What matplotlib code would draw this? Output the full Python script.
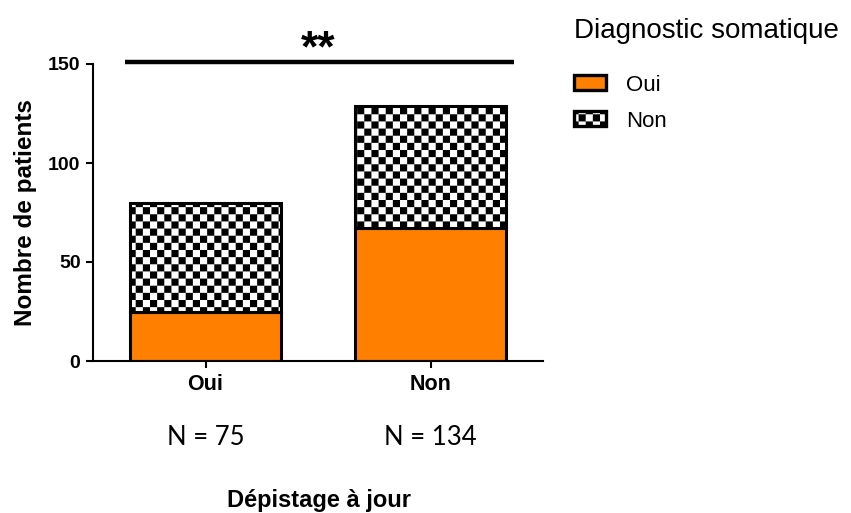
import numpy as np
import matplotlib
matplotlib.use("Agg")
import matplotlib.pyplot as plt
from matplotlib import hatch as mhatch
from matplotlib.path import Path
from matplotlib.patches import Patch

categories = ["Oui", "Non"]
oui_values = [25, 67]          # Diagnostic somatique = Oui (orange)
non_values = [55, 62]          # Diagnostic somatique = Non (checker)
n_labels = ["N = 75", "N = 134"]
yticks = [0, 50, 100, 150]
signif = "**"

ORANGE = "#FF8000"


# checkerboard hatch, replaces the '.' hatch
class Checker(mhatch.HatchPatternBase):
    N = 14

    def __init__(self, hatch, density):
        self.on = '.' in hatch
        self.num_vertices = (self.N * self.N // 2) * 5 if self.on else 0

    def set_vertices_and_codes(self, vertices, codes):
        s = 1.0 / self.N
        k = 0
        for i in range(self.N):
            for j in range(self.N):
                if (i + j) % 2:
                    continue
                x0, y0 = i * s, j * s
                vertices[k:k + 5] = [(x0, y0), (x0 + s, y0), (x0 + s, y0 + s),
                                     (x0, y0 + s), (x0, y0)]
                codes[k:k + 5] = [Path.MOVETO, Path.LINETO, Path.LINETO,
                                  Path.LINETO, Path.CLOSEPOLY]
                k += 5


mhatch._hatch_types = [Checker if t is mhatch.SmallFilledCircles else t
                       for t in mhatch._hatch_types]

plt.rcParams['font.family'] = ['Liberation Sans', 'DejaVu Sans']
plt.rcParams['hatch.linewidth'] = 0.01
plt.rcParams['hatch.color'] = 'black'

fig = plt.figure(figsize=(8.51, 5.13), dpi=100)
ax = fig.add_axes([93 / 851, (513 - 361) / 513, 450 / 851, 297 / 513])

x = np.arange(len(categories))
ax.bar(x, oui_values, width=0.667, color=ORANGE, edgecolor='black',
       linewidth=2.2, zorder=2)
ax.bar(x, non_values, bottom=oui_values, width=0.667, color='white',
       edgecolor='black', linewidth=2.2, hatch='.', zorder=2)

ax.set_xlim(-0.5, 1.5)
ax.set_ylim(0, 150)
ax.set_yticks(yticks)
ax.set_xticks(x)
ax.set_xticklabels(categories, fontsize=15.5, fontweight='bold')
for lab in ax.get_yticklabels():
    lab.set_fontsize(14)
    lab.set_fontweight('bold')
ax.tick_params(axis='both', length=5, width=1.5, pad=4)
for side in ['top', 'right']:
    ax.spines[side].set_visible(False)
for side in ['left', 'bottom']:
    ax.spines[side].set_linewidth(1.5)

ax.set_ylabel("Nombre de patients", fontsize=17.5, fontweight='bold', labelpad=8)

# significance bar
ax.plot([-0.36, 1.37], [151, 151], color='black', lw=3.2, clip_on=False,
        solid_capstyle='butt')
ax.text(0.5, 147, signif, ha='center', va='bottom', fontsize=32,
        fontweight='bold', clip_on=False)

# N labels under the categories
for i, lab in enumerate(n_labels):
    ax.text(i, -0.258, lab, transform=ax.get_xaxis_transform(), ha='center',
            va='center', fontsize=18.5, family=['Lato', 'DejaVu Sans'])

fig.text(319 / 851, 1 - 489 / 513, "Dépistage à jour", ha='center', va='top',
         fontsize=17, fontweight='bold')

handles = [Patch(facecolor=ORANGE, edgecolor='black', linewidth=2.4,
                 joinstyle='round', label='Oui'),
           Patch(facecolor='white', edgecolor='black', linewidth=2.4,
                 joinstyle='round', hatch='.', label='Non')]
leg = fig.legend(handles=handles, title="Diagnostic somatique",
                 loc='upper left', bbox_to_anchor=(574 / 851, 1 - 18 / 513),
                 frameon=False, fontsize=16, title_fontsize=20,
                 alignment='left', borderpad=0, borderaxespad=0,
                 handlelength=1.45, handleheight=0.65, handletextpad=0.9,
                 labelspacing=0.68)
leg._legend_box.sep = 22

fig.savefig("out.png", dpi=100)
